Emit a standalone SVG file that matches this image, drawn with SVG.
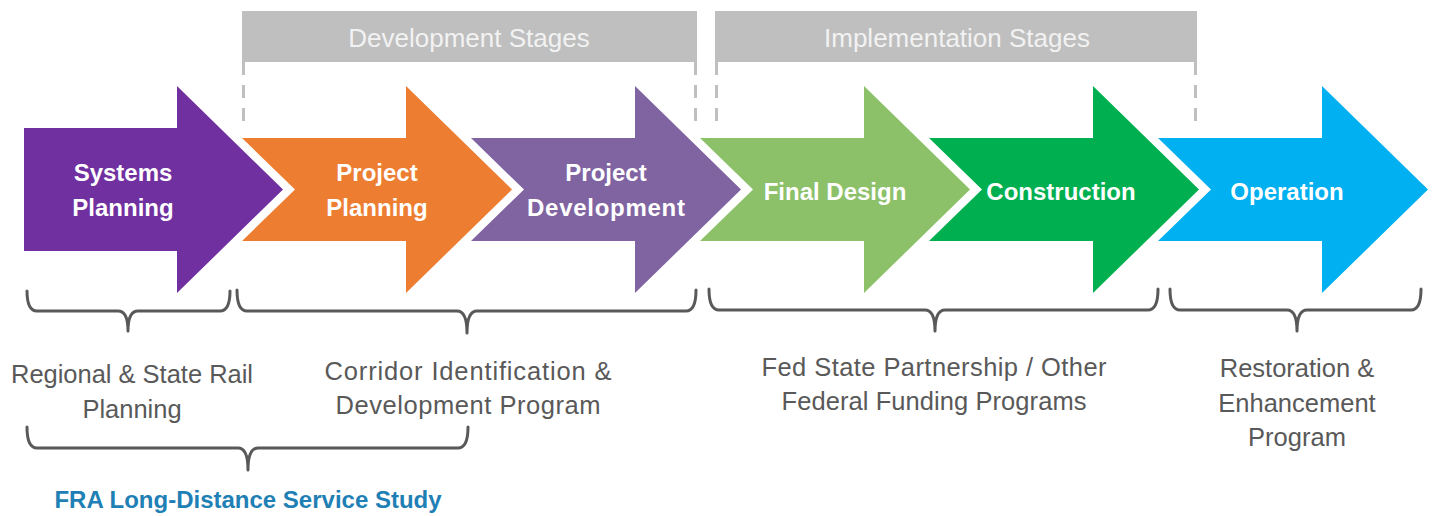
<svg xmlns="http://www.w3.org/2000/svg" width="1434" height="516" viewBox="0 0 1434 516">
<style>
.hdr{fill:#BFBFBF}
.hdrtxt{font-family:"Liberation Sans",Arial,sans-serif;font-size:26px;fill:#F2F2F2;text-anchor:middle}
.dash{stroke:#BFBFBF;stroke-width:3;stroke-dasharray:13 10;fill:none}
.lbl{font-family:"Liberation Sans",Arial,sans-serif;font-size:24px;font-weight:bold;fill:#FFFFFF;text-anchor:middle}
.brace{fill:none;stroke:#595959;stroke-width:3;stroke-linejoin:round;stroke-linecap:round}
.note{font-family:"Liberation Sans",Arial,sans-serif;font-size:25.5px;fill:#595959;text-anchor:middle}
.study{font-family:"Liberation Sans",Arial,sans-serif;font-size:24px;font-weight:bold;fill:#1F80B5;text-anchor:middle}
</style>
<rect width="1434" height="516" fill="#FFFFFF"/>
<g id="dev-stages">
<rect class="hdr" x="242" y="11" width="455" height="51"/>
<text class="hdrtxt" x="469" y="47">Development Stages</text>
<line class="dash" x1="243.5" y1="62" x2="243.5" y2="122"/>
<line class="dash" x1="695.5" y1="62" x2="695.5" y2="122"/>
</g>
<g id="impl-stages">
<rect class="hdr" x="715" y="11" width="482" height="51"/>
<text class="hdrtxt" x="957" y="47">Implementation Stages</text>
<line class="dash" x1="716.5" y1="62" x2="716.5" y2="122"/>
<line class="dash" x1="1195.5" y1="62" x2="1195.5" y2="122"/>
</g>
<g id="systems-planning">
<polygon fill="#7030A0" points="24,128 177,128 177,86 283,189.5 177,293 177,251 24,251"/>
<text class="lbl" x="123" y="181">Systems</text>
<text class="lbl" x="123" y="216">Planning</text>
</g>
<g id="project-planning">
<polygon fill="#ED7D31" points="242,138 406,138 406,86 512,189.5 406,293 406,241 242,241 295,189.5"/>
<text class="lbl" x="377" y="181">Project</text>
<text class="lbl" x="377" y="216">Planning</text>
</g>
<g id="project-development">
<polygon fill="#8064A2" points="471,138 635,138 635,86 741,189.5 635,293 635,241 471,241 524,189.5"/>
<text class="lbl" x="606" y="181">Project</text>
<text class="lbl" x="606" y="216" textLength="158" lengthAdjust="spacing">Development</text>
</g>
<g id="final-design">
<polygon fill="#8CC16A" points="700,138 864,138 864,86 970,189.5 864,293 864,241 700,241 753,189.5"/>
<text class="lbl" x="835" y="200">Final Design</text>
</g>
<g id="construction">
<polygon fill="#00B050" points="929,138 1093,138 1093,86 1199,189.5 1093,293 1093,241 929,241 982,189.5"/>
<text class="lbl" x="1061" y="200">Construction</text>
</g>
<g id="operation">
<polygon fill="#00B0F0" points="1158,138 1322,138 1322,86 1428,189.5 1322,293 1322,241 1158,241 1211,189.5"/>
<text class="lbl" x="1287" y="200">Operation</text>
</g>
<g id="connectors">
<path class="brace" d="M27,291 Q27,311 37,311 L118,311 Q128,311 128,331 Q128,311 138,311 L220,311 Q230,311 230,291"/>
<path class="brace" d="M237,290 Q237,311 247,311 L457,311 Q467,311 467,333 Q467,311 477,311 L686,311 Q696,311 696,290"/>
<path class="brace" d="M709,289 Q709,310 719,310 L925,310 Q935,310 935,331 Q935,310 945,310 L1148,310 Q1158,310 1158,289"/>
<path class="brace" d="M1170,289 Q1170,310 1180,310 L1287,310 Q1297,310 1297,331 Q1297,310 1307,310 L1411,310 Q1421,310 1421,289"/>
<path class="brace" d="M27,427 Q27,448 37,448 L238,448 Q248,448 248,470 Q248,448 258,448 L458,448 Q468,448 468,427"/>
</g>
<g id="regional-state">
<text class="note" x="132" y="383" textLength="242" lengthAdjust="spacing">Regional &amp; State Rail</text>
<text class="note" x="132" y="418">Planning</text>
</g>
<g id="corridor-id">
<text class="note" x="468" y="380" textLength="287" lengthAdjust="spacing">Corridor Identification &amp;</text>
<text class="note" x="468" y="414" textLength="265" lengthAdjust="spacing">Development Program</text>
</g>
<g id="fed-state">
<text class="note" x="934" y="376" textLength="345" lengthAdjust="spacing">Fed State Partnership / Other</text>
<text class="note" x="934" y="410" textLength="305" lengthAdjust="spacing">Federal Funding Programs</text>
</g>
<g id="restoration">
<text class="note" x="1297" y="377">Restoration &amp;</text>
<text class="note" x="1297" y="412">Enhancement</text>
<text class="note" x="1297" y="446">Program</text>
</g>
<g id="fra-study">
<text class="study" x="248" y="508">FRA Long-Distance Service Study</text>
</g>
</svg>
